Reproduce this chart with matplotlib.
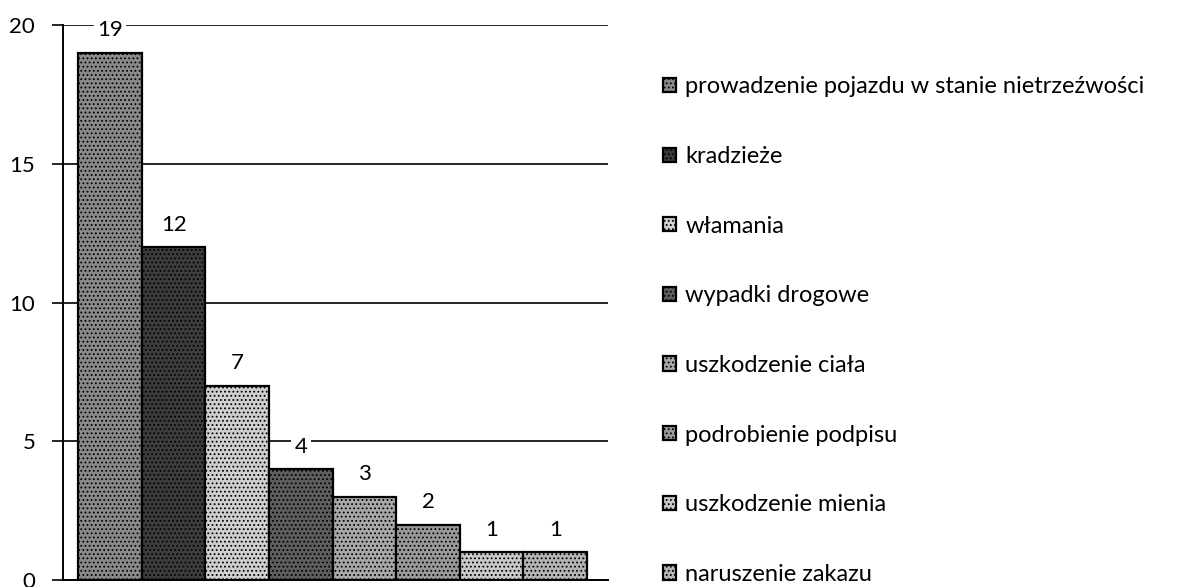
import numpy as np
import matplotlib.pyplot as plt

# crime categories and counts
categories = [
    "prowadzenie pojazdu w stanie nietrzeźwości",
    "kradzieże",
    "włamania",
    "wypadki drogowe",
    "uszkodzenie ciała",
    "podrobienie podpisu",
    "uszkodzenie mienia",
    "naruszenie zakazu",
]
counts = [19, 12, 7, 4, 3, 2, 1, 1]
y_ticks = [0, 5, 10, 15, 20]

colors = ["#8a8a8a", "#3c3c3c", "#cfcfcf", "#5e5e5e",
          "#a8a8a8", "#999999", "#c9c9c9", "#b4b4b4"]

plt.rcParams['font.family'] = ['Lato', 'DejaVu Sans']
plt.rcParams['hatch.color'] = '#ffffff'
plt.rcParams['hatch.linewidth'] = 0.8

fig = plt.figure(figsize=(11.86, 5.87), dpi=100)
ax = fig.add_axes([0.0531, 0.0115, 0.4595, 0.946])

x = np.arange(len(counts))
bars = []
for i, (c, v) in enumerate(zip(categories, counts)):
    b = ax.bar(x[i], v, width=1.0, color=colors[i], edgecolor="black",
               linewidth=1.6, label=c, zorder=3, hatch="....")
    bars.append(b)

for i, v in enumerate(counts):
    ax.annotate(str(v), (x[i], v), xytext=(0, 9), textcoords="offset points",
                ha="center", va="bottom", fontsize=16, zorder=5,
                bbox=dict(boxstyle="square,pad=0.15", fc="white", ec="none"))

ax.set_xlim(-0.74, 7.83)
ax.set_ylim(0, 20)
ax.set_yticks(y_ticks)
ax.set_yticklabels([str(t) for t in y_ticks], fontsize=16)
ax.set_xticks([])
ax.yaxis.grid(True, color="black", linewidth=1.2, zorder=0)
ax.tick_params(axis="y", length=8, width=1.2, pad=12)
for side in ["top", "right"]:
    ax.spines[side].set_visible(False)
ax.spines["left"].set_linewidth(1.4)
ax.spines["bottom"].set_linewidth(1.4)

fig.legend(handles=[b[0] for b in bars], labels=categories,
           loc="upper left", bbox_to_anchor=(0.551, 0.886), frameon=False,
           fontsize=17, handlelength=0.55, handleheight=0.55, handletextpad=0.4,
           labelspacing=2.06, borderaxespad=0)

fig.savefig("out.png", dpi=100)
